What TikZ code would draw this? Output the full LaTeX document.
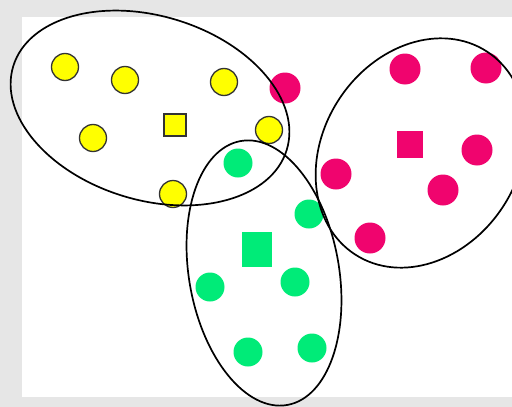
\documentclass[tikz,border=0pt]{standalone}
\usepackage[dvipsnames]{xcolor}
\definecolor{ylw}{HTML}{FFFF00}
\definecolor{mag}{HTML}{F0046E}
\definecolor{grn}{HTML}{00EB78}
\definecolor{frame}{HTML}{E6E6E6}
\usepackage{tikz}
\usetikzlibrary{shapes.geometric}
\tikzset{
  pt/.style={circle,inner sep=0pt,minimum size=29pt},
  ypt/.style={pt,fill=ylw,draw=black!80,line width=1.3pt,minimum size=27pt},
  mpt/.style={pt,fill=mag,minimum size=31pt},
  gpt/.style={pt,fill=grn},
  ctr/.style={rectangle,inner sep=0pt},
  clus/.style={ellipse,draw=black,line width=1.7pt,inner sep=0pt},
}

\begin{document}
\begin{tikzpicture}[x=1pt,y=-1pt]
\useasboundingbox (0,0) rectangle (512,407);
\clip (0,0) rectangle (512,407);
\fill[frame] (0,0) rectangle (512,407);
\fill[white] (22,17) rectangle (512,397);
% yellow group
\node[ypt] (y1) at (65,67) {};
\node[ypt] (y2) at (125,80) {};
\node[ypt] (y3) at (224,82) {};
\node[ypt] (y4) at (93,138) {};
\node[ypt] (y5) at (269,130) {};
\node[ypt] (y6) at (173,194) {};
\node[ctr,fill=ylw,draw=black!80,line width=1.3pt,minimum size=22pt] (ysq) at (175,125) {};
% magenta group
\node[mpt] (m1) at (285,88) {};
\node[mpt] (m2) at (405,69) {};
\node[mpt] (m3) at (486,68) {};
\node[mpt] (m4) at (477,150) {};
\node[mpt] (m5) at (443,190) {};
\node[mpt] (m6) at (336,174) {};
\node[mpt] (m7) at (370,238) {};
\node[ctr,fill=mag,minimum width=26pt,minimum height=27pt] (msq) at (410,144) {};
% green group
\node[gpt] (g1) at (238,163) {};
\node[gpt] (g2) at (309,214) {};
\node[gpt] (g3) at (210,287) {};
\node[gpt] (g4) at (295,282) {};
\node[gpt] (g5) at (248,352) {};
\node[gpt] (g6) at (312,348) {};
\node[ctr,fill=grn,minimum width=30pt,minimum height=35pt] (gsq) at (257,249) {};
% clusters
\node[clus,minimum width=286pt,minimum height=184pt,rotate=-17] (ycl) at (150,108) {};
\node[clus,minimum width=150pt,minimum height=268pt,rotate=10] (gcl) at (264,273) {};
\node[clus,minimum width=196pt,minimum height=242pt,rotate=-33] (mcl) at (421,153) {};
\end{tikzpicture}
\end{document}
